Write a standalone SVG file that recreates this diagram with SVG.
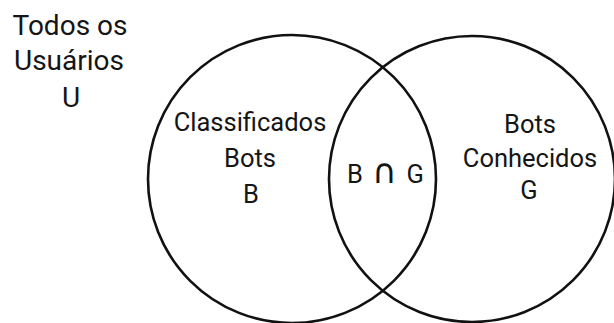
<svg xmlns="http://www.w3.org/2000/svg" width="614" height="323" viewBox="0 0 614 323">
<style>
.set{fill:none;stroke:#111;stroke-width:2.6}
text{font-family:Roboto,"Liberation Sans",Arial,sans-serif;fill:#151515;text-anchor:middle}
.big{font-size:28px}
.lab{font-size:25.5px}
.sym{font-family:"DejaVu Sans",sans-serif;font-size:34px}
</style>
<rect width="614" height="323" fill="#fff"/>
<g id="universe">
<text class="big" x="70" y="35">Todos os</text>
<text class="big" x="69" y="70">Usuários</text>
<text class="big" x="71" y="107">U</text>
</g>
<g id="setB">
<circle class="set" cx="292" cy="179" r="144"/>
<text class="lab" x="250" y="131">Classificados</text>
<text class="lab" x="250" y="167">Bots</text>
<text class="lab" x="251" y="203">B</text>
</g>
<g id="setG">
<circle class="set" cx="472" cy="179" r="143"/>
<text class="lab" x="530" y="133">Bots</text>
<text class="lab" x="530" y="167">Conhecidos</text>
<text class="lab" x="529" y="199">G</text>
</g>
<g id="intersection">
<text class="lab" x="385.5" y="183" word-spacing="3">B <tspan class="sym">∩</tspan> G</text>
</g>
</svg>
